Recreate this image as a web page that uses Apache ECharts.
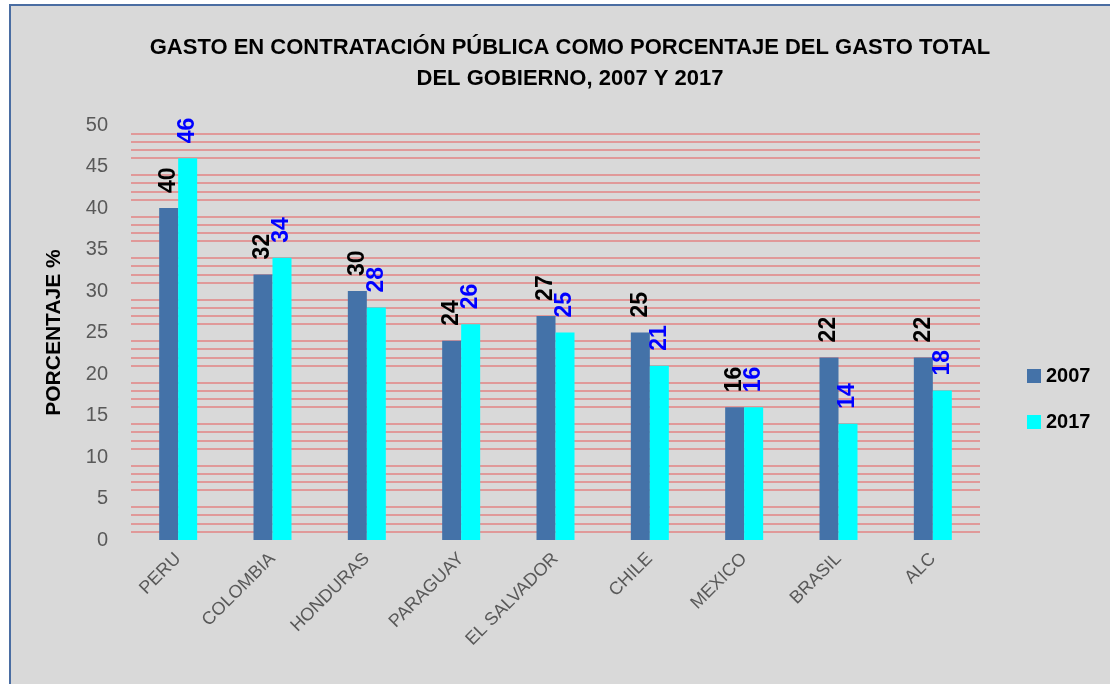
<!DOCTYPE html>
<html>
<head>
<meta charset="utf-8">
<script src="https://cdn.jsdelivr.net/npm/echarts@6/dist/echarts.min.js"></script>
<style>
  body { margin: 0; background: #fff; }
  #frame { position: absolute; left: 9px; top: 4px; right: 0; bottom: 0; background: #d9d9d9;
           border-left: 2px solid #4a6da2; border-top: 2px solid #4a6da2; }
  #chart { position: absolute; left: 0; top: 0; width: 1110px; height: 684px; }
</style>
</head>
<body>
<div id="frame"></div>
<div id="chart"></div>
<script>
// datos
var paises = ['PERU', 'COLOMBIA', 'HONDURAS', 'PARAGUAY', 'EL SALVADOR', 'CHILE', 'MEXICO', 'BRASIL', 'ALC'];
var datos2007 = [40, 32, 30, 24, 27, 25, 16, 22, 22];
var datos2017 = [46, 34, 28, 26, 25, 21, 16, 14, 18];

var fuente = 'Liberation Sans';
var chart = echarts.init(document.getElementById('chart'));

chart.setOption({
  backgroundColor: 'transparent',
  textStyle: { fontFamily: fuente },
  title: {
    text: 'GASTO EN CONTRATACIÓN PÚBLICA COMO PORCENTAJE DEL GASTO TOTAL\nDEL GOBIERNO, 2007 Y 2017',
    left: 565, top: 27, textAlign: 'center',
    textStyle: { fontSize: 22, fontWeight: 'bold', color: '#000', lineHeight: 31, fontFamily: fuente }
  },
  legend: {
    orient: 'vertical', left: 1022, top: 361,
    itemWidth: 14, itemHeight: 14, itemGap: 26,
    icon: 'rect',
    textStyle: { fontSize: 20, fontWeight: 'bold', color: '#000' },
    data: ['2007', '2017']
  },
  grid: { left: 131, right: 130, top: 125, bottom: 144 },
  xAxis: {
    type: 'category', data: paises,
    axisLine: { show: false }, axisTick: { show: false },
    axisLabel: { rotate: 45, fontSize: 18, color: '#595959', margin: 16, interval: 0 }
  },
  yAxis: {
    type: 'value', min: 0, max: 50, interval: 5,
    name: 'PORCENTAJE %', nameLocation: 'middle', nameGap: 66, nameRotate: 90,
    nameTextStyle: { fontSize: 21, fontWeight: 'bold', color: '#000' },
    axisLine: { show: false }, axisTick: { show: false },
    axisLabel: { fontSize: 20, color: '#595959', margin: 23 },
    splitLine: { show: false },
    minorTick: { show: false, splitNumber: 5 },
    minorSplitLine: { show: true, lineStyle: { color: '#e09999', width: 2 } }
  },
  series: [{
    name: '2007', type: 'bar', data: datos2007, barWidth: 19, barGap: '0%',
    itemStyle: { color: '#4472a8' },
    label: { show: true, position: 'top', rotate: 90, align: 'left', verticalAlign: 'middle', distance: 15,
             fontSize: 23, fontWeight: 'bold', color: '#000' }
  }, {
    name: '2017', type: 'bar', data: datos2017, barWidth: 19,
    itemStyle: { color: '#00ffff' },
    label: { show: true, position: 'top', rotate: 90, align: 'left', verticalAlign: 'middle', distance: 15,
             fontSize: 23, fontWeight: 'bold', color: '#0000ff' }
  }]
});
window.addEventListener('resize', function () { chart.resize(); });
</script>
</body>
</html>
